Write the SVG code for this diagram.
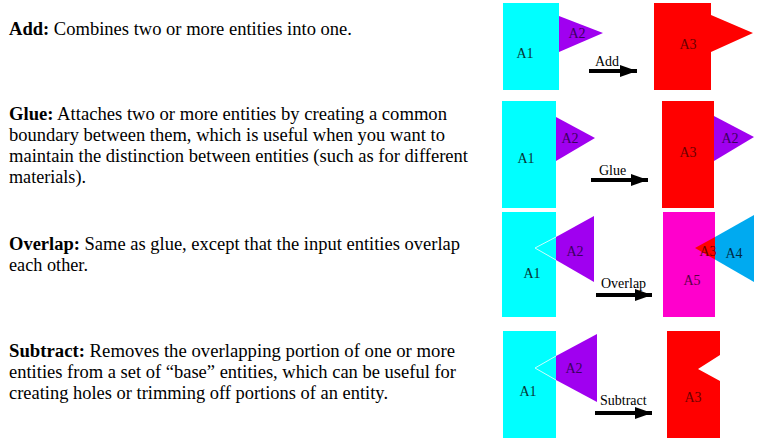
<svg xmlns="http://www.w3.org/2000/svg" width="771" height="443" viewBox="0 0 771 443">
<defs>
<marker id="ah" markerUnits="userSpaceOnUse" markerWidth="18" markerHeight="12" refX="17" refY="6" orient="auto">
<polygon points="0,0 17,6 0,12" fill="#000"/>
</marker>
<style>
.desc{font-family:"Liberation Serif","Times New Roman",serif;font-size:18.5px;fill:#000}
.b{font-weight:bold}
.lbl{font-family:"Liberation Serif","Times New Roman",serif;font-size:14px;text-anchor:middle}
.alab{font-family:"Liberation Serif","Times New Roman",serif;font-size:14px;fill:#000}
.cy{fill:#00ffff}.pu{fill:#a000f0}.rd{fill:#ff0000}.mg{fill:#ff00cc}.bl{fill:#00aaf0}
.tc{fill:#073535}.tp{fill:#3a0060}.tr{fill:#6a0000}.tm{fill:#5a0045}.tb{fill:#002a45}
.arr{stroke:#000;stroke-width:4;fill:none;marker-end:url(#ah)}
</style>
</defs>
<rect width="771" height="443" fill="#fff"/>

<g id="text">
<text class="desc" x="9" y="35" textLength="343" lengthAdjust="spacingAndGlyphs"><tspan class="b">Add:</tspan> Combines two or more entities into one.</text>
<text class="desc" x="9" y="120" textLength="438" lengthAdjust="spacingAndGlyphs"><tspan class="b">Glue:</tspan> Attaches two or more entities by creating a common</text>
<text class="desc" x="9" y="141" textLength="436" lengthAdjust="spacingAndGlyphs">boundary between them, which is useful when you want to</text>
<text class="desc" x="9" y="162" textLength="459" lengthAdjust="spacingAndGlyphs">maintain the distinction between entities (such as for different</text>
<text class="desc" x="9" y="183" textLength="77" lengthAdjust="spacingAndGlyphs">materials).</text>
<text class="desc" x="9" y="250" textLength="451" lengthAdjust="spacingAndGlyphs"><tspan class="b">Overlap:</tspan> Same as glue, except that the input entities overlap</text>
<text class="desc" x="9" y="271" textLength="79" lengthAdjust="spacingAndGlyphs">each other.</text>
<text class="desc" x="9" y="357" textLength="446" lengthAdjust="spacingAndGlyphs"><tspan class="b">Subtract:</tspan> Removes the overlapping portion of one or more</text>
<text class="desc" x="9" y="378" textLength="447" lengthAdjust="spacingAndGlyphs">entities from a set of “base” entities, which can be useful for</text>
<text class="desc" x="9" y="399" textLength="379" lengthAdjust="spacingAndGlyphs">creating holes or trimming off portions of an entity.</text>
</g>

<!-- Add -->
<g id="add-a1"><rect class="cy" x="503" y="3" width="56" height="87"/><text class="lbl tc" x="525" y="58">A1</text></g>
<g id="add-a2"><polygon class="pu" points="559,16 559,52 603,33"/><text class="lbl tp" x="577" y="38">A2</text></g>
<g id="add-a3"><polygon class="rd" points="654,3 711,3 711,15 753,33 711,52 711,90 654,90"/><text class="lbl tr" x="688" y="49">A3</text></g>

<!-- Glue -->
<g id="glue-a1"><rect class="cy" x="502" y="101" width="54" height="107"/><text class="lbl tc" x="526" y="163">A1</text></g>
<g id="glue-a2"><polygon class="pu" points="556,117 556,161 595,138"/><text class="lbl tp" x="570" y="143">A2</text></g>
<g id="glue-a3"><rect class="rd" x="662" y="101" width="52" height="107"/><text class="lbl tr" x="688" y="157">A3</text></g>
<g id="glue-a2b"><polygon class="pu" points="714,116 714,161 754,137"/><text class="lbl tp" x="730" y="143">A2</text></g>

<!-- Overlap -->
<g id="ov-a1"><rect class="cy" x="502" y="212" width="54" height="105"/><polyline points="556,237 535,248 556,260" fill="none" stroke="#c8ffff" stroke-width="1"/><text class="lbl tc" x="532" y="278">A1</text></g>
<g id="ov-a2"><polygon class="pu" points="556,237 594,216 594,282 556,260"/><text class="lbl tp" x="575" y="256">A2</text></g>
<g id="ov-a5"><rect class="mg" x="663" y="212" width="52" height="105"/><text class="lbl tm" x="692" y="285">A5</text></g>
<g id="ov-a4"><polygon class="bl" points="715,237 754,215 754,282 715,259.5"/><text class="lbl tb" x="734" y="258">A4</text></g>
<g id="ov-a3"><polygon class="rd" points="695,248 715,237 715,259.5"/><text class="lbl tr" x="708" y="256">A3</text></g>

<!-- Subtract -->
<g id="sub-a1"><rect class="cy" x="503" y="331" width="53" height="107"/><polyline points="556,356 535,368 556,380" fill="none" stroke="#c8ffff" stroke-width="1"/><text class="lbl tc" x="528" y="396">A1</text></g>
<g id="sub-a2"><polygon class="pu" points="556,356 597,334 597,402 556,380"/><text class="lbl tp" x="574" y="373">A2</text></g>
<g id="sub-a3"><polygon class="rd" points="667,331 720,331 720,355 698,369 720,381 720,438 667,438"/><text class="lbl tr" x="693" y="402">A3</text></g>

<g id="connectors">
<line class="arr" x1="589" y1="71" x2="637" y2="71"/>
<text class="alab" x="595" y="66">Add</text>
<line class="arr" x1="591" y1="180" x2="648" y2="180"/>
<text class="alab" x="599" y="175">Glue</text>
<line class="arr" x1="596" y1="295" x2="652" y2="295"/>
<text class="alab" x="601" y="288">Overlap</text>
<line class="arr" x1="595" y1="413" x2="652" y2="413"/>
<text class="alab" x="600" y="405">Subtract</text>
</g>
</svg>
